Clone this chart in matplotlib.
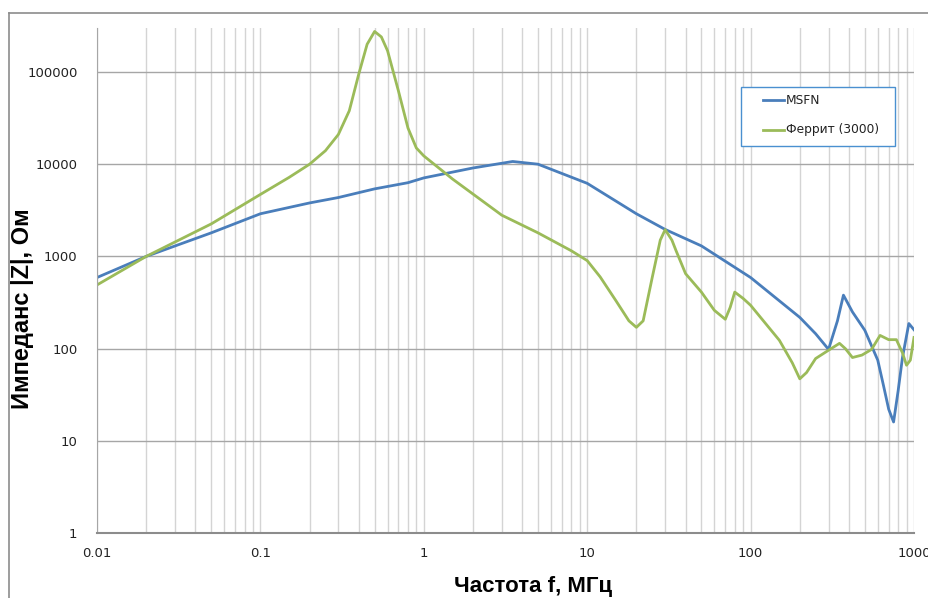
import numpy as np
import matplotlib.pyplot as plt
from matplotlib.ticker import LogLocator, FixedLocator, NullFormatter
from matplotlib.lines import Line2D
from matplotlib.patches import Rectangle

# MSFN
f_msfn = [0.01, 0.02, 0.05, 0.1, 0.2, 0.3, 0.5, 0.8, 1, 2, 3.5, 5, 10, 20, 30, 50, 100,
          200, 250, 300, 340, 370, 420, 500, 600, 650, 700, 750, 800, 850, 930, 1000]
z_msfn = [590, 1000, 1800, 2900, 3800, 4350, 5400, 6300, 7100, 9100, 10700, 10000, 6200,
          2900, 1960, 1300, 590, 218, 145, 98, 200, 380, 250, 158, 75, 40, 22, 16, 35, 80, 187, 160]

# Феррит (3000)
f_fer = [0.01, 0.02, 0.05, 0.1, 0.15, 0.2, 0.25, 0.3, 0.35, 0.4, 0.45, 0.5, 0.55, 0.6, 0.7,
         0.8, 0.9, 1, 1.5, 3, 5, 8, 10, 12, 15, 18, 20, 22, 25, 28, 30, 33, 35, 40, 50, 60,
         70, 75, 80, 90, 100, 150, 180, 200, 220, 250, 300, 350, 380, 420, 480, 550, 620, 700,
         780, 850, 900, 950, 1000]
z_fer = [490, 1000, 2250, 4700, 7200, 10000, 14000, 21000, 38000, 95000, 200000, 275000,
         240000, 170000, 62000, 24700, 15000, 12300, 6900, 2800, 1800, 1150, 900, 600, 330,
         200, 170, 200, 590, 1500, 1950, 1500, 1150, 650, 410, 260, 208, 280, 410, 350, 295,
         123, 70, 47, 55, 78, 96, 114, 100, 80, 85, 98, 139, 125, 125, 90, 66, 75, 132]

blue = '#4a7ebb'
green = '#9bbb59'

fig = plt.figure(figsize=(9.29, 5.98), dpi=100)
ax = fig.add_axes([97/929, 1-533/598, 817/929, 505/598])

ax.plot(f_msfn, z_msfn, color=blue, lw=2, label='MSFN')
ax.plot(f_fer, z_fer, color=green, lw=2, label='Феррит (3000)')

ax.set_xscale('log')
ax.set_yscale('log')
ax.set_xlim(0.01, 1000)
ax.set_ylim(1, 300000)

xt = [0.01, 0.1, 1, 10, 100, 1000]
ax.xaxis.set_major_locator(FixedLocator(xt))
ax.set_xticklabels(['0.01', '0.1', '1', '10', '100', '1000'])
ax.xaxis.set_minor_locator(LogLocator(base=10, subs=np.arange(2, 10)))
ax.xaxis.set_minor_formatter(NullFormatter())
yt = [1, 10, 100, 1000, 10000, 100000]
ax.yaxis.set_major_locator(FixedLocator(yt))
ax.set_yticklabels([str(v) for v in yt])
ax.yaxis.set_minor_locator(FixedLocator([]))

ax.grid(True, which='major', axis='y', color='#a6a6a6', lw=1)
ax.grid(True, which='both', axis='x', color='#d4d4d4', lw=1)
ax.set_axisbelow(True)
ax.tick_params(which='both', length=0, labelsize=9.5, colors='#222222')
ax.tick_params(axis='x', pad=10)
ax.tick_params(axis='y', pad=14)
for s in ['top', 'right']:
    ax.spines[s].set_visible(False)
ax.spines['left'].set_color('#a6a6a6')
ax.spines['bottom'].set_color('#8c8c8c')
ax.spines['bottom'].set_linewidth(1.5)

ax.set_xlabel('Частота f, МГц', fontsize=16, fontweight='bold',
              family=['Liberation Sans', 'DejaVu Sans'])
ax.xaxis.set_label_coords(0.534, -0.085)
ax.set_ylabel('Импеданс |Z|, Ом', fontsize=17, fontweight='bold',
              family=['Liberation Sans', 'DejaVu Sans'])
ax.yaxis.set_label_coords(-0.077, 0.445)

# legend box
fig.add_artist(Rectangle((741/929, 1-146/598), 154/929, 59/598, transform=fig.transFigure,
                         facecolor='white', edgecolor='#4a90d0', lw=1, zorder=5))
for i, (lab, col) in enumerate([('MSFN', blue), ('Феррит (3000)', green)]):
    yy = 1 - (100 + 30*i)/598
    fig.add_artist(Line2D([763/929, 784/929], [yy, yy], color=col, lw=2, zorder=6))
    fig.text(786/929, yy, lab, fontsize=8.8, color='#222222', va='center', ha='left', zorder=6)

# outer chart border
fig.add_artist(Line2D([9/929, 9/929], [0, 1-13/598], color='#8c8c8c', lw=1.2))
fig.add_artist(Line2D([9/929, 1], [1-13/598, 1-13/598], color='#8c8c8c', lw=1.2))

fig.savefig('out.png', dpi=100)
